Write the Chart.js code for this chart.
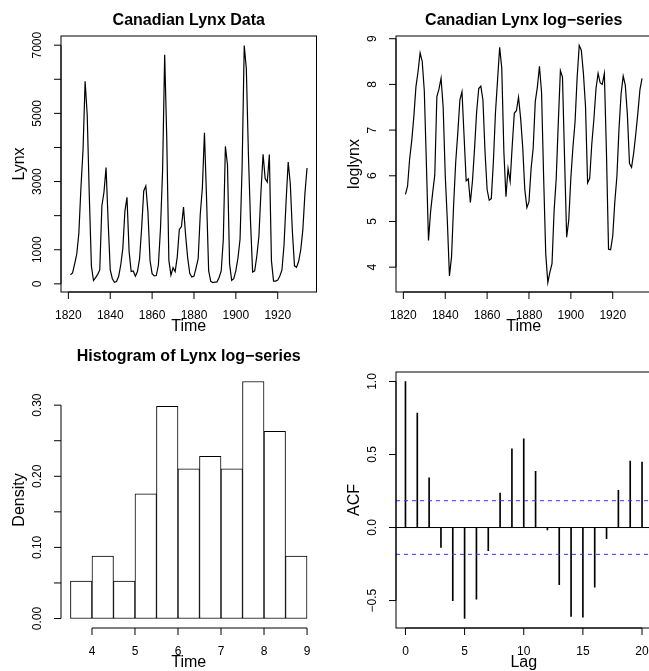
<!DOCTYPE html>
<html>
<head>
<meta charset="utf-8">
<script src="https://cdn.jsdelivr.net/npm/chart.js@4.4.0/dist/chart.umd.min.js"></script>
<style>
  body { margin: 0; width: 649px; height: 671px; overflow: hidden; background: #fff; position: relative; }
  canvas { position: absolute; }
</style>
</head>
<body>
<canvas id="lynxChart" width="336" height="336" style="left:0;top:0"></canvas>
<canvas id="logChart" width="336" height="336" style="left:335px;top:0"></canvas>
<canvas id="histChart" width="336" height="336" style="left:0;top:336px"></canvas>
<canvas id="acfChart" width="336" height="336" style="left:335px;top:336px"></canvas>
<script>
// annual lynx trappings, 1821-1934
var startYear = 1821;
var lynx = [269, 321, 585, 871, 1475, 2821, 3928, 5943, 4950, 2577,
  523, 98, 184, 279, 409, 2285, 2685, 3409, 1824, 409,
  151, 45, 68, 213, 546, 1033, 2129, 2536, 957, 361,
  377, 225, 360, 731, 1638, 2725, 2871, 2119, 684, 299,
  236, 245, 552, 1623, 3311, 6721, 4254, 687, 255, 473,
  358, 784, 1594, 1676, 2251, 1426, 756, 299, 201, 229,
  469, 736, 2042, 2811, 4431, 2511, 389, 73, 39, 49,
  59, 188, 377, 1292, 4031, 3495, 587, 105, 153, 387,
  758, 1307, 3465, 6991, 6313, 3794, 1836, 345, 382, 808,
  1388, 2713, 3800, 3091, 2985, 3790, 674, 81, 80, 108,
  229, 399, 1132, 2432, 3574, 2935, 1537, 529, 485, 662,
  1000, 1590, 2657, 3396];
var loglynx = [5.595, 5.771, 6.372, 6.770, 7.296, 7.945, 8.276, 8.690, 8.507, 7.854,
  6.260, 4.585, 5.215, 5.631, 6.014, 7.734, 7.895, 8.134, 7.509, 6.014,
  5.017, 3.807, 4.220, 5.361, 6.303, 6.940, 7.663, 7.838, 6.864, 5.889,
  5.932, 5.416, 5.886, 6.594, 7.401, 7.910, 7.962, 7.659, 6.528, 5.700,
  5.464, 5.501, 6.314, 7.392, 8.105, 8.813, 8.356, 6.532, 5.541, 6.159,
  5.881, 6.664, 7.374, 7.424, 7.719, 7.263, 6.628, 5.700, 5.303, 5.434,
  6.151, 6.601, 7.622, 7.941, 8.396, 7.828, 5.964, 4.291, 3.664, 3.892,
  4.078, 5.236, 5.932, 7.164, 8.302, 8.159, 6.375, 4.654, 5.030, 5.958,
  6.631, 7.176, 8.151, 8.852, 8.750, 8.241, 7.515, 5.844, 5.945, 6.695,
  7.236, 7.906, 8.243, 8.036, 8.001, 8.240, 6.513, 4.394, 4.382, 4.682,
  5.434, 5.989, 7.032, 7.797, 8.182, 7.985, 7.338, 6.271, 6.184, 6.495,
  6.908, 7.372, 7.885, 8.130];

// histogram of the log-series
var histBreaks = [3.5, 4, 4.5, 5, 5.5, 6, 6.5, 7, 7.5, 8, 8.5, 9];
var histDensity = [0.0526, 0.0877, 0.0526, 0.1754, 0.2982, 0.2105, 0.2281, 0.2105, 0.3333, 0.2632, 0.0877];

// autocorrelation of the log-series
var acfLags = [0, 1, 2, 3, 4, 5, 6, 7, 8, 9, 10, 11, 12, 13, 14, 15, 16, 17, 18, 19, 20];
var acfValues = [1.0, 0.784, 0.341, -0.136, -0.500, -0.623, -0.491, -0.159, 0.236, 0.539,
  0.607, 0.384, -0.016, -0.391, -0.609, -0.614, -0.409, -0.077, 0.254, 0.455, 0.448];
var acfLimit = 0.1836;

var yearTicks = [1820, 1840, 1860, 1880, 1900, 1920];

var FONT = '"Liberation Sans", Arial, Helvetica, sans-serif';
var MINUS = '\u2212';

function fmt(v, d) {
  var s = Math.abs(v).toFixed(d);
  return (v < 0 ? MINUS : '') + s;
}

// R style limits: data range stretched 4% each way
function padRange(lo, hi) {
  var d = (hi - lo) * 0.04;
  return [lo - d, hi + d];
}

// draws axes, box and titles the way base R does
var rAxes = {
  id: 'rAxes',
  afterDraw: function(chart, args, o) {
    var ctx = chart.ctx, a = chart.chartArea;
    var xs = chart.scales.x, ys = chart.scales.y;
    ctx.save();
    ctx.strokeStyle = '#000';
    ctx.fillStyle = '#000';
    ctx.lineWidth = 1;

    (o.hlines || []).forEach(function(h) {
      var py = ys.getPixelForValue(h.y);
      ctx.save();
      ctx.strokeStyle = h.color;
      ctx.setLineDash(h.dash || []);
      ctx.beginPath();
      ctx.moveTo(a.left, py);
      ctx.lineTo(a.right, py);
      ctx.stroke();
      ctx.restore();
    });

    if (o.box) ctx.strokeRect(a.left, a.top, a.right - a.left, a.bottom - a.top);

    // x axis
    var xt = o.xticks;
    ctx.beginPath();
    ctx.moveTo(xs.getPixelForValue(xt[0]), a.bottom);
    ctx.lineTo(xs.getPixelForValue(xt[xt.length - 1]), a.bottom);
    xt.forEach(function(t) {
      var px = xs.getPixelForValue(t);
      ctx.moveTo(px, a.bottom);
      ctx.lineTo(px, a.bottom + 7);
    });
    ctx.stroke();
    ctx.font = '12px ' + FONT;
    ctx.textAlign = 'center';
    ctx.textBaseline = 'middle';
    xt.forEach(function(t) {
      ctx.fillText(o.xfmt(t), xs.getPixelForValue(t), a.bottom + 24);
    });

    // y axis
    var yt = o.yticks;
    ctx.beginPath();
    ctx.moveTo(a.left, ys.getPixelForValue(yt[0]));
    ctx.lineTo(a.left, ys.getPixelForValue(yt[yt.length - 1]));
    yt.forEach(function(t) {
      var py = ys.getPixelForValue(t);
      ctx.moveTo(a.left, py);
      ctx.lineTo(a.left - 7, py);
    });
    ctx.stroke();
    o.ylabelled.forEach(function(t) {
      ctx.save();
      ctx.translate(a.left - 23, ys.getPixelForValue(t));
      ctx.rotate(-Math.PI / 2);
      ctx.fillText(o.yfmt(t), 0, 0);
      ctx.restore();
    });

    // axis titles
    ctx.font = '16px ' + FONT;
    ctx.fillText(o.xlab, (a.left + a.right) / 2, a.bottom + 35);
    ctx.save();
    ctx.translate(a.left - 41, (a.top + a.bottom) / 2);
    ctx.rotate(-Math.PI / 2);
    ctx.fillText(o.ylab, 0, 0);
    ctx.restore();

    if (o.title) {
      ctx.font = 'bold 16px ' + FONT;
      ctx.fillText(o.title, (a.left + a.right) / 2, a.top - 15);
    }
    ctx.restore();
  }
};

var pad = { left: 61, top: 36, right: 19.5, bottom: 44 };

function baseOptions(xr, yr, axes) {
  return {
    responsive: false,
    animation: false,
    layout: { padding: pad },
    plugins: { legend: { display: false }, tooltip: { enabled: false }, rAxes: axes },
    scales: {
      x: { type: 'linear', display: false, min: xr[0], max: xr[1], offset: false },
      y: { type: 'linear', display: false, min: yr[0], max: yr[1] }
    }
  };
}

function yearPoints(vals) {
  var pts = [];
  vals.forEach(function(v, i) {
    pts.push({ x: startYear + i, y: v });
  });
  return pts;
}

var yearRange = padRange(startYear, startYear + lynx.length - 1);

// panel 1: raw series
var opt1 = baseOptions(yearRange, padRange(Math.min.apply(null, lynx), Math.max.apply(null, lynx)), {
  title: 'Canadian Lynx Data', xlab: 'Time', ylab: 'Lynx', box: true,
  xticks: yearTicks, xfmt: function(v) { return String(v); },
  yticks: [0, 1000, 2000, 3000, 4000, 5000, 6000, 7000],
  ylabelled: [0, 1000, 3000, 5000, 7000], yfmt: function(v) { return String(v); }
});
new Chart(document.getElementById('lynxChart'), {
  type: 'line',
  data: { datasets: [{ data: yearPoints(lynx), borderColor: '#000', borderWidth: 1.2, pointRadius: 0, tension: 0 }] },
  options: opt1,
  plugins: [rAxes]
});

// panel 2: log series
var opt2 = baseOptions(yearRange, padRange(Math.min.apply(null, loglynx), Math.max.apply(null, loglynx)), {
  title: 'Canadian Lynx log' + MINUS + 'series', xlab: 'Time', ylab: 'loglynx', box: true,
  xticks: yearTicks, xfmt: function(v) { return String(v); },
  yticks: [4, 5, 6, 7, 8, 9],
  ylabelled: [4, 5, 6, 7, 8, 9], yfmt: function(v) { return String(v); }
});
new Chart(document.getElementById('logChart'), {
  type: 'line',
  data: { datasets: [{ data: yearPoints(loglynx), borderColor: '#000', borderWidth: 1.2, pointRadius: 0, tension: 0 }] },
  options: opt2,
  plugins: [rAxes]
});

// panel 3: histogram
var histPts = histDensity.map(function(d, i) {
  return { x: (histBreaks[i] + histBreaks[i + 1]) / 2, y: d };
});
var opt3 = baseOptions(padRange(histBreaks[0], histBreaks[histBreaks.length - 1]),
  padRange(0, Math.max.apply(null, histDensity)), {
  title: 'Histogram of Lynx log' + MINUS + 'series', xlab: 'Time', ylab: 'Density', box: false,
  xticks: [4, 5, 6, 7, 8, 9], xfmt: function(v) { return String(v); },
  yticks: [0, 0.05, 0.1, 0.15, 0.2, 0.25, 0.3],
  ylabelled: [0, 0.1, 0.2, 0.3], yfmt: function(v) { return fmt(v, 2); }
});
new Chart(document.getElementById('histChart'), {
  type: 'bar',
  data: { datasets: [{ data: histPts, backgroundColor: '#fff', borderColor: '#000', borderWidth: 1,
    borderSkipped: false, barPercentage: 1, categoryPercentage: 1 }] },
  options: opt3,
  plugins: [rAxes]
});

// panel 4: ACF
var acfPts = acfLags.map(function(l, i) { return { x: l, y: acfValues[i] }; });
var opt4 = baseOptions(padRange(acfLags[0], acfLags[acfLags.length - 1]),
  padRange(Math.min(Math.min.apply(null, acfValues), -acfLimit), 1), {
  title: '', xlab: 'Lag', ylab: 'ACF', box: true,
  xticks: [0, 5, 10, 15, 20], xfmt: function(v) { return String(v); },
  yticks: [-0.5, 0, 0.5, 1],
  ylabelled: [-0.5, 0, 0.5, 1], yfmt: function(v) { return fmt(v, 1); },
  hlines: [
    { y: 0, color: '#000' },
    { y: acfLimit, color: '#3333ff', dash: [4, 4] },
    { y: -acfLimit, color: '#3333ff', dash: [4, 4] }
  ]
});
new Chart(document.getElementById('acfChart'), {
  type: 'bar',
  data: { datasets: [{ data: acfPts, backgroundColor: '#000', barThickness: 1 }] },
  options: opt4,
  plugins: [rAxes]
});
</script>
</body>
</html>
